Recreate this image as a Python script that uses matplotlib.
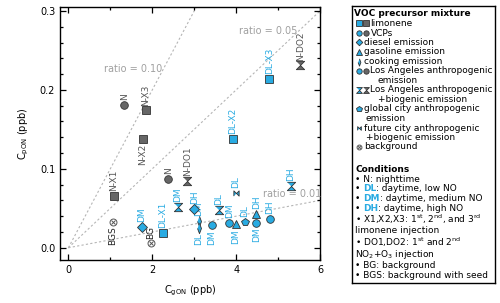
import numpy as np
import matplotlib.pyplot as plt
from matplotlib.ticker import MultipleLocator

plt.rcParams['font.family'] = 'DejaVu Sans'
plt.rcParams['font.size'] = 6.5

BLUE = '#29abe2'
GRAY = '#666666'
EDGE = '#333333'

# data
c_gon = [1.33, 1.84, 1.77, 1.08, 1.06, 1.75, 1.96, 2.25, 2.38, 2.84, 2.61, 3.00,
         3.11, 3.11, 3.42, 3.58, 3.99, 3.84, 3.99, 4.20, 4.48, 4.48, 4.80, 5.31,
         3.92, 4.79, 5.53]
c_pon = [0.181, 0.174, 0.138, 0.0655, 0.033, 0.0266, 0.0055, 0.019, 0.087, 0.0845,
         0.052, 0.0487, 0.034, 0.025, 0.0287, 0.0478, 0.0697, 0.031, 0.030, 0.033,
         0.0317, 0.0427, 0.0364, 0.078, 0.1378, 0.214, 0.231]
mixture = ['vcp', 'lim', 'lim', 'lim', 'bg', 'diesel', 'bg', 'lim', 'la', 'labio',
           'labio', 'diesel', 'cook', 'cook', 'vcp', 'labio', 'future', 'vcp', 'gas',
           'global', 'la', 'gas', 'la', 'labio', 'lim', 'lim', 'labio']
labels = ['N', 'N-X3', 'N-X2', 'N-X1', 'BGS', 'DM', 'BG', 'DL-X1', 'N', 'N-DO1',
          'DM', 'DH', 'DM', 'DL', 'DM', 'DL', 'DL', 'DM', 'DM', 'DL', 'DM', 'DH',
          'DH', 'DH', 'DL-X2', 'DL-X3', 'N-DO2']
above = [1, 1, 0, 1, 0, 1, 1, 1, 1, 1, 1, 1, 1, 0, 0, 1, 1, 1, 0, 1, 0, 1, 1, 1,
         1, 1, 1]
ratios = [0.10, 0.05, 0.01]
ratio_label_pos = [(1.55, 0.226), (4.77, 0.275), (5.33, 0.068)]

hourglass = [(-1, 1), (1, 1), (0, 0), (1, -1), (-1, -1), (0, 0)]
bowtie = [(-1, -1), (-1, 1), (0, 0), (1, 1), (1, -1), (0, 0)]
thin_d = [(0, 1), (0.38, 0), (0, -1), (-0.38, 0)]
markers = {'lim': ('s', 5.5), 'vcp': ('o', 5.5), 'diesel': ('D', 4.8),
           'gas': ('^', 5.5), 'cook': (thin_d, 7.5), 'la': ('o', 5.5),
           'labio': (hourglass, 6.0), 'global': ('p', 5.8),
           'future': (bowtie, 3.8), 'bg': ('o', 5.0)}


def point_color(lab):
    if lab.startswith('N'):
        return GRAY
    if lab.startswith('BG'):
        return None
    return BLUE


def draw_marker(a, x, y, kind, fc, scale=1.0):
    m, s = markers[kind]
    if kind == 'bg':
        a.plot(x, y, 'o', ms=s * scale, mfc='none', mec='#555555', mew=0.7, zorder=4)
        a.plot(x, y, 'x', ms=s * scale * 0.55, mec='#555555', mew=0.7, zorder=4)
    else:
        a.plot(x, y, marker=m, ms=s * scale, mfc=fc, mec=EDGE, mew=0.6,
               ls='none', zorder=4)


fig = plt.figure(figsize=(5, 3.03), dpi=100)
ax = fig.add_axes([0.12, 0.142, 0.52, 0.834])

xx = np.array([0, 6.5])
for r, (lx, ly) in zip(ratios, ratio_label_pos):
    ax.plot(xx, r * xx, ls=(0, (2, 2)), color='#b5b5b5', lw=0.8, zorder=1)
    ax.text(lx, ly, 'ratio = %.2f' % r, color='#a0a0a0', ha='center', va='center',
            fontsize=7)

for x, y, kind, lab, up in zip(c_gon, c_pon, mixture, labels, above):
    col = point_color(lab)
    draw_marker(ax, x, y, kind, col)
    tcol = {BLUE: BLUE, GRAY: '#555555', None: '#222222'}[col]
    ax.annotate(lab, (x, y), xytext=(0, 3.5 if up else -3.5), textcoords='offset points',
                rotation=90, ha='center', va='bottom' if up else 'top', color=tcol,
                fontsize=6.5)

ax.set_xlim(-0.2, 6)
ax.set_ylim(-0.0155, 0.3047)
ax.xaxis.set_major_locator(MultipleLocator(2))
ax.xaxis.set_minor_locator(MultipleLocator(1))
ax.yaxis.set_major_locator(MultipleLocator(0.1))
ax.yaxis.set_minor_locator(MultipleLocator(0.02))
ax.tick_params(which='both', direction='in', top=True, right=True, labelsize=7,
               width=0.9)
ax.tick_params(which='major', length=4.5)
ax.tick_params(which='minor', length=2.5)
for sp in ax.spines.values():
    sp.set_linewidth(1.0)
ax.set_xlabel('C$_{\\rm gON}$ (ppb)', fontsize=7, labelpad=6)
ax.set_ylabel('C$_{\\rm pON}$ (ppb)', fontsize=7, labelpad=6)

# legend box, drawn in pixel-like coordinates
lax = fig.add_axes([0.704, 0.066, 0.286, 0.914])
lax.set_xlim(352, 495)
lax.set_ylim(283, 6)
lax.set_xticks([])
lax.set_yticks([])
for sp in lax.spines.values():
    sp.set_linewidth(1.0)

renderer = fig.canvas.get_renderer()


def chain(x, y, parts):
    for s, kw in parts:
        t = lax.text(x, y + 2.4, s, va='baseline', ha='left', fontsize=6.5, **kw)
        x += t.get_window_extent(renderer).width
    return x


chain(353.5, 13.3, [('VOC precursor mixture', dict(fontweight='bold'))])
entries = [
    ('lim', True, ['limonene'], 23.3),
    ('vcp', True, ['VCPs'], 33.3),
    ('diesel', False, ['diesel emission'], 42.3),
    ('gas', False, ['gasoline emission'], 51.7),
    ('cook', False, ['cooking emission'], 61.7),
    ('la', True, ['Los Angeles anthropogenic', 'emission'], 70.7),
    ('labio', True, ['Los Angeles anthropogenic', '+biogenic emission'], 90.0),
    ('global', False, ['global city anthropogenic', 'emission'], 109.0),
    ('future', False, ['future city anthropogenic', '+biogenic emission'], 128.3),
    ('bg', False, ['background'], 146.7),
]
for kind, pair, lines, y in entries:
    if kind == 'bg':
        draw_marker(lax, 359.3, y, kind, None, scale=0.7)
    else:
        draw_marker(lax, 359.3, y, kind, BLUE, scale=0.7)
    if pair:
        draw_marker(lax, 365.5, y, kind, GRAY, scale=0.7)
        x0, x1 = 370.5, 378
    else:
        x0, x1 = 364, 365.5
    chain(x0, y, [(lines[0], {})])
    if len(lines) > 1:
        chain(x1, y + 9.4, [(lines[1], {})])

chain(355, 169.3, [('Conditions', dict(fontweight='bold'))])
chain(355, 179.3, [('• N: nighttime', {})])
for code, desc, y in [('DL', 'low NO', 188.8), ('DM', 'medium NO', 199.0),
                      ('DH', 'high NO', 209.0)]:
    chain(355, y, [('• ', {}), (code, dict(fontweight='bold', color=BLUE)),
                   (': daytime, ' + desc, {})])
chain(355, 220.5, [('• X1,X2,X3: 1$^{\\rm st}$, 2$^{\\rm nd}$, and 3$^{\\rm rd}$', {})])
chain(355, 231.0, [('limonene injection', {})])
chain(355, 243.3, [('• DO1,DO2: 1$^{\\rm st}$ and 2$^{\\rm nd}$', {})])
chain(355, 254.3, [('NO$_2$+O$_3$ injection', {})])
chain(355, 265.7, [('• BG: background', {})])
chain(355, 275.7, [('• BGS: background with seed', {})])

fig.savefig('out.png', dpi=100)
